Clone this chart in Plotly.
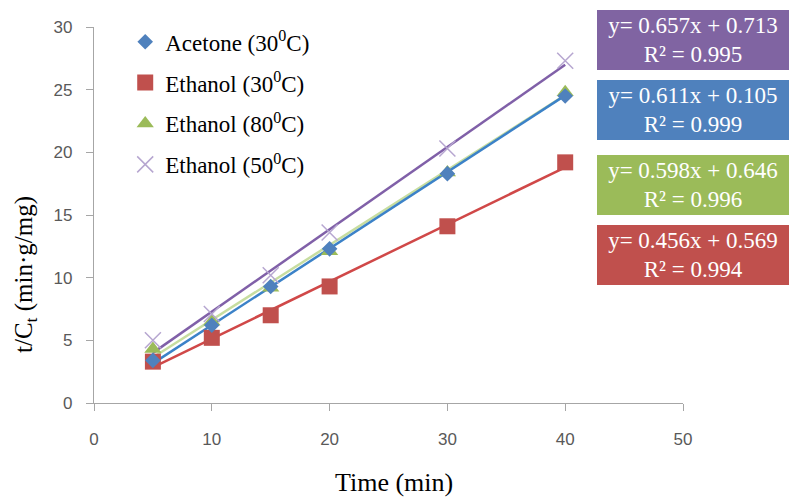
import plotly.graph_objects as go

# Sampling times (min)
time_min = [5, 10, 15, 20, 30, 40]

# t/Ct values (min·g/mg) for each extraction condition
acetone_30 = [3.4, 6.2, 9.3, 12.3, 18.3, 24.5]
ethanol_30 = [3.3, 5.2, 7.0, 9.3, 14.1, 19.2]
ethanol_80 = [4.3, 6.5, 9.2, 12.1, 18.4, 24.8]
ethanol_50 = [5.0, 7.1, 10.2, 13.6, 20.3, 27.3]

series_names = ["Acetone (30<sup>0</sup>C)", "Ethanol (30<sup>0</sup>C)",
                "Ethanol (80<sup>0</sup>C)", "Ethanol (50<sup>0</sup>C)"]

# Linear fit parameters (slope, intercept, R²)
slopes = [0.611, 0.456, 0.598, 0.657]
intercepts = [0.105, 0.569, 0.646, 0.713]
r_squared = [0.999, 0.994, 0.996, 0.995]

series_values = [acetone_30, ethanol_30, ethanol_80, ethanol_50]
marker_colors = ["#4F81BD", "#C0504D", "#9BBB59", "#B6A6D0"]
marker_symbols = ["diamond", "square", "triangle-up", "x-thin"]
marker_sizes = [12, 16, 15, 16]
line_colors = ["#3C82C8", "#D04848", "#C7DDA0", "#8060A8"]
box_colors = ["#4F81BD", "#C0504D", "#9BBB59", "#8064A2"]

fig = go.Figure()

# fitted lines first so the markers sit on top
fit_order = [2, 1, 0, 3]
for i in fit_order:
    x_fit = [min(time_min), max(time_min)]
    y_fit = [slopes[i] * x + intercepts[i] for x in x_fit]
    fig.add_trace(go.Scatter(
        x=x_fit, y=y_fit, mode="lines",
        line=dict(color=line_colors[i], width=2.5),
        showlegend=False, hoverinfo="skip"))

for i in [1, 2, 0, 3]:
    marker = dict(color=marker_colors[i], size=marker_sizes[i], symbol=marker_symbols[i])
    if marker_symbols[i] == "x-thin":
        marker["line"] = dict(color=marker_colors[i], width=1.5)
    fig.add_trace(go.Scatter(
        x=time_min, y=series_values[i], mode="markers",
        name=series_names[i], marker=marker,
        legendgroup=f"g{i}", legendrank=i + 1))

# equation boxes: top to bottom purple, blue, green, red
box_order = [3, 0, 2, 1]
box_tops_px = [10, 80, 155, 225]
plot_left, plot_right, plot_top, plot_bottom = 94, 683, 27, 403
for i, top_px in zip(box_order, box_tops_px):
    fig.add_annotation(
        xref="paper", yref="paper",
        x=(597 - plot_left) / (plot_right - plot_left),
        y=(plot_bottom - top_px) / (plot_bottom - plot_top),
        xanchor="left", yanchor="top",
        text=f"y= {slopes[i]:.3f}x + {intercepts[i]:.3f}<br>R² = {r_squared[i]:.3f}",
        showarrow=False, align="center",
        font=dict(family="Liberation Serif", size=23, color="white"),
        bgcolor=box_colors[i], bordercolor=box_colors[i], borderwidth=1,
        width=188, height=56, borderpad=1)

# axis titles
fig.add_annotation(
    xref="paper", yref="paper",
    x=(394 - plot_left) / (plot_right - plot_left),
    y=(plot_bottom - 482) / (plot_bottom - plot_top),
    xanchor="center", yanchor="middle",
    text="Time (min)", showarrow=False,
    font=dict(family="Liberation Serif", size=26, color="black"))
fig.add_annotation(
    xref="paper", yref="paper",
    x=(25 - plot_left) / (plot_right - plot_left),
    y=(plot_bottom - 275) / (plot_bottom - plot_top),
    xanchor="center", yanchor="middle",
    text="t/C<sub>t</sub> (min·g/mg)", textangle=-90, showarrow=False,
    font=dict(family="Liberation Serif", size=25, color="black"))

axis_common = dict(
    showgrid=False, zeroline=False, showline=True, linecolor="#A6A6A6", linewidth=1.2,
    ticks="outside", tickcolor="#A6A6A6", ticklen=7, tickwidth=1.2,
    tickfont=dict(family="Liberation Sans", size=17, color="#595959"))

fig.update_xaxes(range=[0, 50], dtick=10, ticklabelstandoff=13, **axis_common)
fig.update_yaxes(range=[0, 30], dtick=5, ticklabelstandoff=10, **axis_common)

fig.update_layout(
    width=789, height=499,
    margin=dict(l=plot_left, r=789 - plot_right, t=plot_top, b=499 - plot_bottom),
    plot_bgcolor="white", paper_bgcolor="white",
    legend=dict(
        x=0.053, y=1.018, xanchor="left", yanchor="top",
        font=dict(family="Liberation Serif", size=23, color="black"),
        bgcolor="rgba(0,0,0,0)", tracegroupgap=8, itemwidth=30),
)

fig.write_html("out.html")
